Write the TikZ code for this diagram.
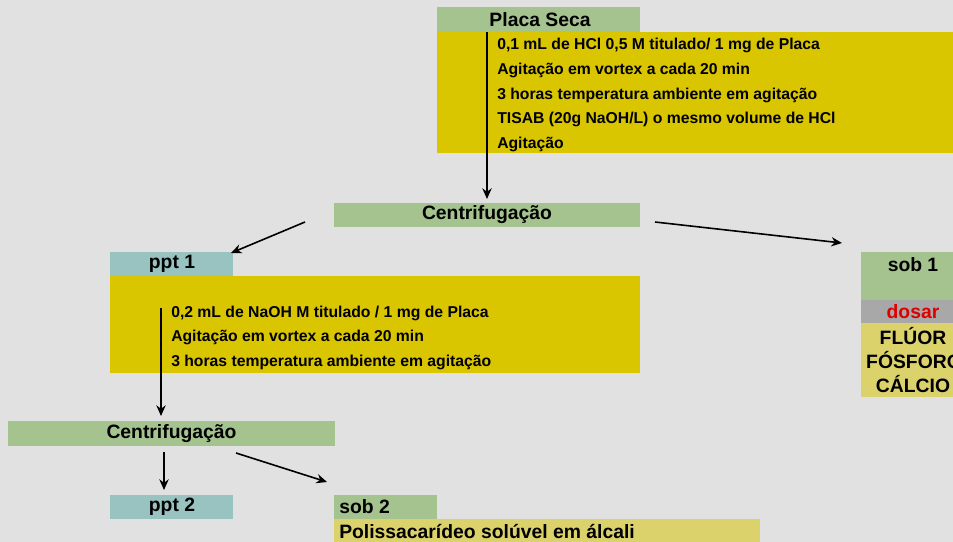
\documentclass[tikz,border=0pt]{standalone}
\usepackage{fontspec}
\setmainfont{Liberation Sans}
\usetikzlibrary{arrows.meta,calc}
\definecolor{bg}{HTML}{E1E1E1}
\definecolor{hgreen}{HTML}{A4C38E}
\definecolor{ybox}{HTML}{D9C500}
\definecolor{ylight}{HTML}{DCD26B}
\definecolor{teal}{HTML}{99C3C1}
\definecolor{gband}{HTML}{A8A8A8}
\definecolor{dred}{HTML}{DD0000}
\tikzset{
  box/.style={draw=none,inner sep=0pt,outer sep=0pt},
  hd/.style={font=\bfseries\fontsize{14.5}{16}\selectfont},
  tx/.style={font=\bfseries\fontsize{11.8}{13}\selectfont,anchor=west,inner sep=0pt},
  conn/.style={line width=1.2pt,-{Stealth[length=8pt,width=7pt]}},
}
\begin{document}
\begin{tikzpicture}[x=0.75pt,y=-0.75pt]
\fill[bg] (0,0) rectangle (953,542);
\useasboundingbox (0,0) rectangle (953,542);
% Placa Seca
\fill[hgreen] (437,7) rectangle (640,32);
\node[hd] (placa) at (540,19.5) {Placa Seca};
\fill[ybox] (437,32) rectangle (953,153);
\node[tx] (l11) at (497,45) {0,1 mL de HCl 0,5 M titulado/ 1 mg de Placa};
\node[tx] (l12) at (497,70) {Agitação em vortex a cada 20 min};
\node[tx] (l13) at (497,95) {3 horas temperatura ambiente em agitação};
\node[tx] (l14) at (497,119) {TISAB (20g NaOH/L) o mesmo volume de HCl};
\node[tx] (l15) at (497,144) {Agitação};
% Centrifugacao 1
\fill[hgreen] (334,203) rectangle (640,227);
\node[hd] (c1) at (487,215) {Centrifugação};
% ppt 1
\fill[teal] (110,252) rectangle (233,276);
\node[hd] (ppt1) at (172,264) {ppt 1};
\fill[ybox] (110,276) rectangle (640,373);
\node[tx] (l21) at (171,313) {0,2 mL de NaOH M titulado / 1 mg de Placa};
\node[tx] (l22) at (171,337) {Agitação em vortex a cada 20 min};
\node[tx] (l23) at (171,362) {3 horas temperatura ambiente em agitação};
% sob 1
\fill[hgreen] (861,252) rectangle (975,300);
\node[hd] (sob1) at (913,265) {sob 1};
\fill[gband] (861,300) rectangle (975,323);
\node[hd,text=dred] (dosar) at (913,311.5) {dosar};
\fill[ylight] (861,323) rectangle (975,397);
\node[hd] (fl) at (913,336) {FLÚOR};
\node[hd] (fo) at (914,360) {FÓSFORO};
\node[hd] (ca) at (913,384) {CÁLCIO};
% Centrifugacao 2
\fill[hgreen] (8,421) rectangle (335,446);
\node[hd] (c2) at (171.5,433.5) {Centrifugação};
% ppt 2
\fill[teal] (110,495) rectangle (233,519);
\node[hd] (ppt2) at (172,507) {ppt 2};
% sob 2
\fill[hgreen] (334,495) rectangle (437,519);
\node[hd,anchor=west,inner sep=0pt] (sob2) at (339,507) {sob 2};
\fill[ylight] (334,519) rectangle (760,548);
\node[hd,anchor=west,inner sep=0pt] (poli) at (339,531) {Polissacarídeo solúvel em álcali};
% connectors
\coordinate (s1) at (487,32);
\coordinate (e1) at (487,199);
\draw[conn] (s1) -- (e1);
\coordinate (a1s) at (305,222);
\coordinate (a1e) at (231,253);
\draw[conn] (a1s) -- (a1e);
\coordinate (a2s) at (655,222);
\coordinate (a2e) at (842,243);
\draw[conn] (a2s) -- (a2e);
\coordinate (s2) at (161,308);
\coordinate (e2) at (161,416);
\draw[conn] (s2) -- (e2);
\coordinate (a3s) at (164,452);
\coordinate (a3e) at (164,490);
\draw[conn] (a3s) -- (a3e);
\coordinate (a4s) at (236,453);
\coordinate (a4e) at (327,482);
\draw[conn] (a4s) -- (a4e);
\end{tikzpicture}
\end{document}
